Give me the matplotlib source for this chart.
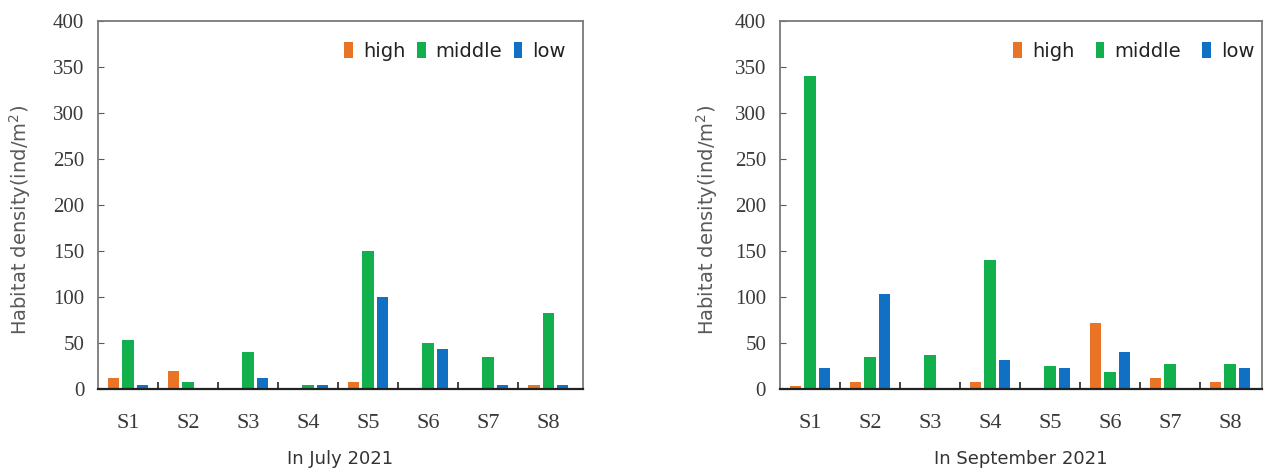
import numpy as np
import matplotlib
matplotlib.use("Agg")
import matplotlib.pyplot as plt

# --------------------------
# Data
# --------------------------
sites = ["S1", "S2", "S3", "S4", "S5", "S6", "S7", "S8"]
series = ["high", "middle", "low"]

july_high = [12, 20, 0, 0, 8, 0, 0, 4]
july_middle = [53, 8, 40, 4, 150, 50, 35, 83]
july_low = [4, 0, 12, 4, 100, 44, 4, 4]

sep_high = [3, 8, 0, 8, 0, 72, 12, 8]
sep_middle = [340, 35, 37, 140, 25, 19, 27, 27]
sep_low = [23, 103, 0, 31, 23, 40, 0, 23]

y_ticks = [0, 50, 100, 150, 200, 250, 300, 350, 400]

colors = ["#E97425", "#12B04C", "#1070C4"]
grey = "#595959"


def draw_panel(ax, values, title, xlim, ylab_x, colspace, leg_anchor):
    x = np.arange(len(sites))
    w = 0.19
    offs = [-0.24, 0, 0.24]
    for vals, off, col, name in zip(values, offs, colors, series):
        ax.bar(x + off, vals, width=w, color=col, label=name, zorder=2)

    ax.set_xlim(*xlim)
    ax.set_ylim(0, 400)
    ax.set_yticks(y_ticks)
    ax.set_yticklabels([str(t) for t in y_ticks], family="Liberation Serif",
                       fontsize=15, color="#3a3a3a")
    ax.set_xticks(x)
    ax.set_xticklabels(sites, family="Liberation Serif", fontsize=16, color="#3a3a3a")
    ax.tick_params(axis="x", length=0, pad=18)
    ax.set_xticks(x[:-1] + 0.5, minor=True)
    ax.tick_params(axis="x", which="minor", direction="in", length=5, width=1.2, color="#222222")
    ax.tick_params(axis="y", direction="in", length=4, color=grey, pad=10)

    for s in ["top", "right", "left"]:
        ax.spines[s].set_color("#7a7a7a")
        ax.spines[s].set_linewidth(1.3)
    ax.spines["bottom"].set_color("#222222")
    ax.spines["bottom"].set_linewidth(1.6)

    ax.set_ylabel("Habitat density(ind/m$^2$)", color=grey, fontsize=14,
                  family="DejaVu Sans")
    ax.yaxis.set_label_coords(ylab_x, 0.46)
    ax.set_xlabel(title, color="#333333", fontsize=13, family="DejaVu Sans", labelpad=12)

    leg = ax.legend(loc="upper right", bbox_to_anchor=leg_anchor, ncol=3, frameon=False,
                    fontsize=14, handlelength=0.45, handleheight=0.9, handletextpad=0.5,
                    columnspacing=colspace, borderaxespad=0.0)
    for t in leg.get_texts():
        t.set_color("#222222")


fig = plt.figure(figsize=(12.65, 4.7), dpi=100)
ax1 = fig.add_axes([0.0775, 0.1723, 0.3834, 0.783])
ax2 = fig.add_axes([0.6166, 0.1723, 0.381, 0.783])

draw_panel(ax1, [july_high, july_middle, july_low], "In July 2021", (-0.5, 7.58),
           -0.134, 0.6, (0.98, 0.965))
draw_panel(ax2, [sep_high, sep_middle, sep_low], "In September 2021", (-0.5, 7.53),
           -0.124, 1.1, (1.0, 0.965))

fig.savefig("out.png", dpi=100)
